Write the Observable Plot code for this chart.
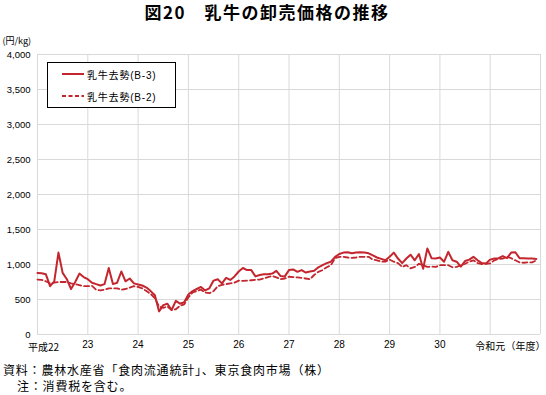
<!DOCTYPE html>
<html><head><meta charset="utf-8">
<script src="https://cdn.jsdelivr.net/npm/d3@7"></script>
<script src="https://cdn.jsdelivr.net/npm/@observablehq/plot@0.6"></script>
<style>
body{margin:0;background:#fff;width:546px;height:395px;overflow:hidden;position:relative;font-family:"Liberation Sans","Noto Sans CJK JP",sans-serif;color:#000}
#title{position:absolute;left:0;top:1px;width:546px;text-align:center;font-family:"Noto Sans CJK JP",sans-serif;font-weight:bold;font-size:17px;letter-spacing:1.5px;line-height:21px;text-indent:-12px}
#chart{position:absolute;left:0;top:22px}
#legend{position:absolute;left:47px;top:62px;width:127px;height:44px;border:1px solid #000;background:#fff;font-size:10px;letter-spacing:0.8px;font-family:"Liberation Sans","Noto Sans CJK JP",sans-serif}
#legend .row{position:absolute;left:14px;height:12px;display:flex;align-items:center}
#legend svg{margin-right:3px}
#caption{position:absolute;left:3px;top:362px;font-family:"Noto Sans CJK JP",sans-serif;font-size:12px;letter-spacing:0.8px;line-height:16px}
</style></head>
<body>
<div id="title">図20　乳牛の卸売価格の推移</div>
<div id="chart"></div>
<div id="legend"></div>
<div id="caption"><div>資料：農林水産省「食肉流通統計」、東京食肉市場（株）</div><div style="padding-left:14px">注：消費税を含む。</div></div>
<script>
// monthly prices (円/kg), April 平成22 (2010) .. March 令和元 (2020)
const seriesNames = ["乳牛去勢(B-3)", "乳牛去勢(B-2)"];
const b3 = [
 880,875,860,690,760,1170,880,790,650,750,870,820,
 790,740,720,700,720,950,720,740,900,760,800,730,
 715,700,670,620,560,330,420,440,350,480,440,460,
 570,620,650,680,630,660,770,790,730,810,780,830,
 900,950,920,920,830,850,860,860,870,910,835,830,
 920,930,895,920,885,900,910,960,990,1020,1040,1110,
 1150,1170,1175,1160,1170,1175,1170,1160,1130,1100,1080,1060,
 1110,1170,1085,1020,1085,1140,1060,1150,940,1230,1090,1085,
 1100,1040,1180,1060,1040,970,1050,1070,1110,1060,1020,1015,
 1070,1085,1090,1120,1090,1170,1175,1090,1090,1085,1085,1080
];
const b2 = [
 785,780,760,730,740,750,750,750,730,720,705,690,
 690,695,640,630,640,660,660,660,640,650,670,690,
 680,660,620,580,520,400,380,400,350,360,410,430,
 530,600,620,640,600,590,620,690,710,720,730,740,
 770,765,770,775,780,785,800,820,835,815,790,800,
 825,820,815,810,800,790,850,895,920,960,990,1090,
 1110,1110,1100,1095,1100,1110,1110,1110,1070,1060,1040,1040,
 1070,1040,1020,965,990,945,965,1010,990,965,970,965,
 990,990,990,960,965,990,1010,1040,1060,1020,1005,1010,
 1015,1060,1080,1085,1110,1090,1060,1030,1025,1030,1030,1060
];
const yearLabels = ["平成22","23","24","25","26","27","28","29","30","令和元"];
const yearStarts = [0,12,24,36,48,60,72,84,96,108];
const gridX = [0,12,24,36,48,60,72,84,96,108,120];
const yTicks = [0,500,1000,1500,2000,2500,3000,3500,4000];

const red = "#c3262e";
const rows = [];
b3.forEach((v,i)=>rows.push({m:i, v, s:seriesNames[0]}));
b2.forEach((v,i)=>rows.push({m:i, v, s:seriesNames[1]}));
const years = yearStarts.map((m,i)=>({m, label:yearLabels[i]}));
const cjk = '"Noto Sans CJK JP",sans-serif';

const chart = Plot.plot({
  width: 546, height: 340,
  marginTop: 32, marginBottom: 28, marginLeft: 37, marginRight: 6,
  style: {fontFamily: '"Liberation Sans","Noto Sans CJK JP",sans-serif', fontSize: "10px", background: "#fff"},
  x: {domain: [0,120], axis: null},
  y: {domain: [0,4000], axis: null},
  marks: [
    Plot.ruleY(yTicks, {y: d=>d, stroke: "#d9d9d9", strokeWidth: 1}),
    Plot.ruleX(gridX, {x: d=>d, stroke: "#d9d9d9", strokeWidth: 1}),
    Plot.axisY({ticks: yTicks, tickSize: 0, tickPadding: 7, tickFormat: d3.format(","), fontSize: 9.5, label: null}),
    Plot.text(years.slice(0,1), {x: "m", text: "label", frameAnchor: "bottom", dy: 16, dx: 6, fontSize: 10, fontFamily: cjk}),
    Plot.text(years.slice(1,9), {x: "m", text: "label", frameAnchor: "bottom", dy: 13, fontSize: 10}),
    Plot.text(years.slice(9), {x: "m", text: "label", frameAnchor: "bottom", dy: 15, dx: 0, fontSize: 10, fontFamily: cjk}),
    Plot.text(["（年度）"], {text: d=>d, frameAnchor: "bottom-right", textAnchor: "end", dx: 5, dy: 15, fontSize: 10, fontFamily: cjk}),
    Plot.text(["(円/kg)"], {text: d=>d, frameAnchor: "top-left", textAnchor: "start", dx: -35, dy: -17, fontSize: 9, fontFamily: cjk}),
    Plot.line(rows.filter(d=>d.s===seriesNames[1]), {x: "m", y: "v", stroke: red, strokeWidth: 1.8, strokeDasharray: "5,3"}),
    Plot.line(rows.filter(d=>d.s===seriesNames[0]), {x: "m", y: "v", stroke: red, strokeWidth: 2})
  ]
});
document.getElementById("chart").appendChild(chart);

const lg = document.getElementById("legend");
[[seriesNames[0], null, 11],[seriesNames[1], "4,2.5", 33]].forEach(([name, dash, y])=>{
  const r = document.createElement("div");
  r.className = "row"; r.style.top = (y-6)+"px";
  r.innerHTML = `<svg width="22" height="4"><line x1="0" x2="22" y1="2" y2="2" stroke="${red}" stroke-width="2" ${dash?`stroke-dasharray="${dash}"`:""}/></svg><span>${name}</span>`;
  lg.appendChild(r);
});
</script>
</body></html>
